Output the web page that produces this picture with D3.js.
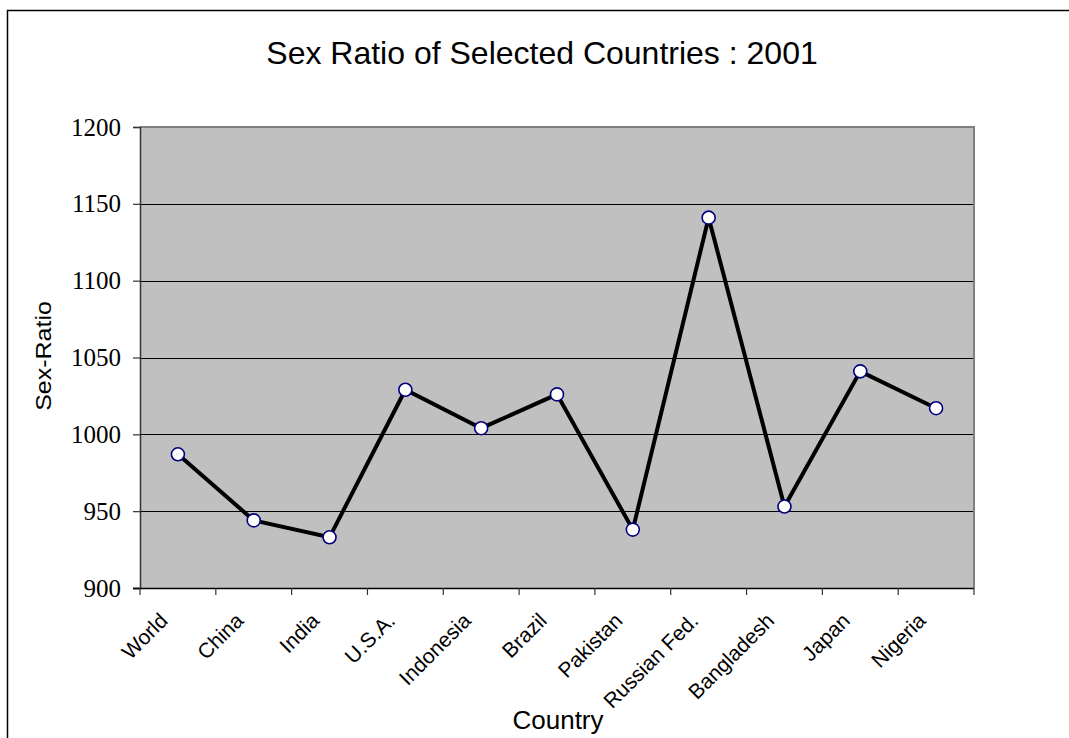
<!DOCTYPE html>
<html>
<head>
<meta charset="utf-8">
<script src="https://cdn.jsdelivr.net/npm/d3@7"></script>
<style>
  html, body { margin: 0; padding: 0; background: #fff; }
  svg { display: block; }
</style>
</head>
<body>
<svg id="chart" width="1069" height="738"></svg>
<script>
// Sex ratio (females per 1000 males), 2001
const countries = ["World", "China", "India", "U.S.A.", "Indonesia", "Brazil",
                   "Pakistan", "Russian Fed.", "Bangladesh", "Japan", "Nigeria"];
const sexRatio = [987, 944, 933, 1029, 1004, 1026, 938, 1141, 953, 1041, 1017];
const yTicks = [900, 950, 1000, 1050, 1100, 1150, 1200];

const svg = d3.select("#chart");
const W = 1069, H = 738;
const plot = { left: 140, right: 974, top: 127, bottom: 588 };
const sans = "'Liberation Sans', Arial, sans-serif";
const serif = "'Liberation Serif', 'Times New Roman', serif";

// outer frame
svg.append("rect")
  .attr("x", 7.5).attr("y", 10.5)
  .attr("width", W).attr("height", H)
  .attr("fill", "none").attr("stroke", "#000").attr("stroke-width", 1.5);

const x = d3.scaleBand().domain(countries).range([plot.left, plot.right]).padding(0);
const y = d3.scaleLinear().domain([900, 1200]).range([plot.bottom, plot.top]);

// plot background
svg.append("rect")
  .attr("x", plot.left).attr("y", plot.top)
  .attr("width", plot.right - plot.left).attr("height", plot.bottom - plot.top)
  .attr("fill", "#c0c0c0");

// horizontal gridlines
svg.append("g").selectAll("line")
  .data(yTicks.filter(d => d > 900 && d < 1200))
  .join("line")
  .attr("x1", plot.left).attr("x2", plot.right)
  .attr("y1", d => Math.round(y(d)) + 0.5).attr("y2", d => Math.round(y(d)) + 0.5)
  .attr("stroke", "#000").attr("stroke-width", 1);

// top and right border of the plot area
svg.append("path")
  .attr("d", `M${plot.left},${plot.top} H${plot.right} V${plot.bottom}`)
  .attr("fill", "none").attr("stroke", "#808080").attr("stroke-width", 2);

// y axis
const yAxis = svg.append("g")
  .attr("transform", `translate(${plot.left},0)`)
  .call(d3.axisLeft(y).tickValues(yTicks).tickSize(7).tickPadding(12).tickFormat(d3.format("d")));
yAxis.select(".domain").attr("stroke", "#333").attr("stroke-width", 1.5);
yAxis.selectAll(".tick line").attr("stroke", "#333").attr("stroke-width", 1.2);
yAxis.selectAll("text")
  .attr("font-family", serif)
  .attr("font-size", 25).attr("fill", "#000");

// x axis: ticks at category boundaries
const xBounds = countries.map(c => x(c)).concat([plot.right]);
const xAxisG = svg.append("g");
xAxisG.append("line")
  .attr("x1", plot.left - 7).attr("x2", plot.right)
  .attr("y1", plot.bottom + 0.5).attr("y2", plot.bottom + 0.5)
  .attr("stroke", "#000").attr("stroke-width", 1.5);
xAxisG.selectAll("line.tk")
  .data(xBounds)
  .join("line").attr("class", "tk")
  .attr("x1", d => d).attr("x2", d => d)
  .attr("y1", plot.bottom).attr("y2", plot.bottom + 7)
  .attr("stroke", "#333").attr("stroke-width", 1.2);

// rotated category labels
xAxisG.selectAll("text.cat")
  .data(countries)
  .join("text").attr("class", "cat")
  .attr("transform", d => `translate(${x(d) + x.bandwidth() / 2 - 9},${plot.bottom + 34}) rotate(-45)`)
  .attr("text-anchor", "end")
  .attr("font-family", sans)
  .attr("font-size", 21)
  .attr("fill", "#000")
  .text(d => d);

// data line
const line = d3.line()
  .x((d, i) => x(countries[i]) + x.bandwidth() / 2)
  .y(d => y(d));
svg.append("path")
  .datum(sexRatio)
  .attr("d", line)
  .attr("fill", "none").attr("stroke", "#000").attr("stroke-width", 4)
  .attr("stroke-linejoin", "miter");

// markers
svg.append("g").selectAll("circle")
  .data(sexRatio)
  .join("circle")
  .attr("cx", (d, i) => x(countries[i]) + x.bandwidth() / 2)
  .attr("cy", d => y(d))
  .attr("r", 6.5)
  .attr("fill", "#fff").attr("stroke", "#000080").attr("stroke-width", 1.6);

// titles
svg.append("text")
  .attr("x", 542).attr("y", 64)
  .attr("text-anchor", "middle")
  .attr("font-family", sans)
  .attr("font-size", 32)
  .text("Sex Ratio of Selected Countries : 2001");

svg.append("text")
  .attr("transform", "translate(51,356) rotate(-90) scale(1,0.88)")
  .attr("text-anchor", "middle")
  .attr("font-family", sans)
  .attr("font-size", 25)
  .text("Sex-Ratio");

svg.append("text")
  .attr("x", 558).attr("y", 729)
  .attr("text-anchor", "middle")
  .attr("font-family", sans)
  .attr("font-size", 26)
  .text("Country");
</script>
</body>
</html>
